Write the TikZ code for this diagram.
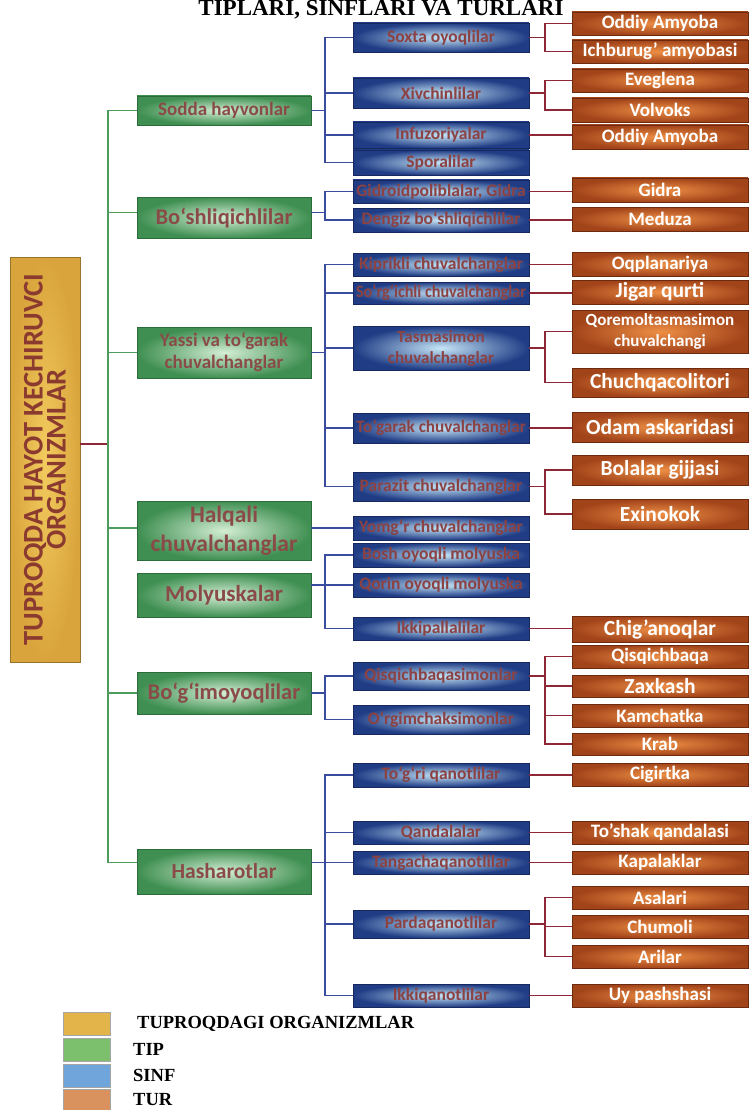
\documentclass[tikz,border=0pt]{standalone}
\usepackage{fontspec}
\usepackage{graphicx}
\setmainfont{Carlito}
\newfontfamily\tms{Liberation Serif}
\usetikzlibrary{calc}
\definecolor{lgreen}{HTML}{4E9C5C}
\definecolor{lblue}{HTML}{3A4C9E}
\definecolor{lred}{HTML}{8E2838}
\definecolor{gin}{HTML}{D4EED4}
\definecolor{gout}{HTML}{3F8F52}
\definecolor{gbord}{HTML}{2E6B3A}
\definecolor{gtxt}{HTML}{8A4B48}
\definecolor{bin}{HTML}{C6E6F7}
\definecolor{bout}{HTML}{1F3C85}
\definecolor{bbord}{HTML}{16285E}
\definecolor{btxt}{HTML}{8C4242}
\definecolor{oin}{HTML}{EE8F45}
\definecolor{oout}{HTML}{A2441A}
\definecolor{obord}{HTML}{6E2A0E}
\definecolor{yin}{HTML}{F2CB5E}
\definecolor{yout}{HTML}{D9A43C}
\definecolor{ytxt}{HTML}{8B3A30}
\definecolor{legY}{HTML}{E3B44A}
\definecolor{legG}{HTML}{7CC06E}
\definecolor{legB}{HTML}{6FA5DA}
\definecolor{legO}{HTML}{D9925E}
\newsavebox\fitbx
\newcommand\fitw[2]{\sbox\fitbx{#2}\ifdim\wd\fitbx>#1\relax\resizebox{#1}{\ht\fitbx}{\usebox\fitbx}\else\usebox\fitbx\fi}
\newcommand\bt[1]{\fitw{170pt}{#1}}
\newcommand\ot[1]{\fitw{172pt}{#1}}
\newcommand\bx[7]{\node[#2,minimum width={(#5-#3)*1pt},minimum height={(#6-#4)*1pt}] (#1) at ({(#3+#5)/2},{(#4+#6)/2}) {#7};}
\tikzset{
 gl/.style={draw=lgreen, line width=1.5pt},
 bl/.style={draw=lblue, line width=1.5pt},
 rl/.style={draw=lred, line width=1.5pt},
 box/.style={rectangle, inner sep=1pt, line width=0.8pt, align=center},
 gbox/.style={box, draw=gbord, inner color=gin, outer color=gout, text=gtxt, font=\bfseries\fontsize{20}{22}\selectfont},
 bbox/.style={box, draw=bbord, inner color=bin, outer color=bout, text=btxt, font=\bfseries\fontsize{17.5}{18}\selectfont},
 obox/.style={box, draw=obord, inner color=oin, outer color=oout, text=white, font=\bfseries\fontsize{19}{20}\selectfont},
 obig/.style={obox, font=\bfseries\fontsize{21.5}{22}\selectfont},
 legbox/.style={rectangle, draw=gray!70, line width=0.8pt, minimum width=47pt, minimum height=23pt, inner sep=0pt},
 legtxt/.style={anchor=west, inner sep=0pt, font=\tms\bfseries\fontsize{18.5}{18.5}\selectfont},
}
\begin{document}
\begin{tikzpicture}[x=1pt,y=-1pt]
\useasboundingbox (0,0) rectangle (749,1110);
% title
\node[anchor=base, inner sep=0pt, font=\tms\bfseries\fontsize{23}{23}\selectfont] (title) at (381,16) {TIPLARI, SINFLARI VA TURLARI};
% trunk coordinates
\coordinate (gx) at (108,0);
\coordinate (bx) at (325,0);
\coordinate (rx) at (545,0);
\coordinate (gjoin) at (108,444);
% root
\node[box, rotate=90, draw=yout!70!black, inner color=yin, outer color=yout, text=ytxt, minimum width=405pt, minimum height=70pt, font=\bfseries\fontsize{28.5}{23}\selectfont] (root) at (45,459.5) {TUPROQDA HAYOT KECHIRUVCI\\ORGANIZMLAR};
% green
\bx{G1}{gbox,font=\bfseries\fontsize{19}{22}\selectfont}{137}{96}{311}{125}{Sodda hayvonlar}
\bx{G2}{gbox,font=\bfseries\fontsize{22.5}{22}\selectfont}{137}{197}{311}{238}{Bo‘shliqichlilar}
\bx{G3}{gbox,font=\bfseries\fontsize{19}{22}\selectfont}{137}{327}{311}{378}{Yassi va to‘garak\\chuvalchanglar}
\bx{G4}{gbox,font=\bfseries\fontsize{23.5}{29}\selectfont}{137}{501}{311}{560}{Halqali\\chuvalchanglar}
\bx{G5}{gbox,font=\bfseries\fontsize{23}{22}\selectfont}{137}{573}{311}{617}{Molyuskalar}
\bx{G6}{gbox,font=\bfseries\fontsize{22.5}{22}\selectfont}{137}{672}{311}{714}{Bo‘g‘imoyoqlilar}
\bx{G7}{gbox,font=\bfseries\fontsize{21.5}{22}\selectfont}{137}{849}{311}{894}{Hasharotlar}
\coordinate (G2w) at ([yshift=5pt]G2.west);
\coordinate (G2e) at ([yshift=5pt]G2.east);
% blue
\bx{B1}{bbox}{353}{23}{529}{52}{\bt{Soxta oyoqlilar}}
\bx{B2}{bbox}{353}{78}{529}{108}{\bt{Xivchinlilar}}
\bx{B3}{bbox}{353}{122}{529}{148}{\bt{Infuzoriyalar}}
\bx{B4}{bbox}{353}{150}{529}{175}{\bt{Sporalilar}}
\bx{B5}{bbox}{353}{180}{529}{203}{\bt{Gidroidpoliblalar, Gidra}}
\bx{B6}{bbox}{353}{208}{529}{232}{\bt{Dengiz bo‘shliqichlilar}}
\bx{B7}{bbox}{353}{253}{529}{276}{\bt{Kiprikli chuvalchanglar}}
\bx{B8}{bbox}{353}{282}{529}{304}{\bt{So‘rg‘ichli chuvalchanglar}}
\bx{B9}{bbox,font=\bfseries\fontsize{17}{21}\selectfont}{353}{326}{529}{370}{Tasmasimon\\chuvalchanglar}
\bx{B10}{bbox}{353}{413}{529}{443}{\bt{To‘garak chuvalchanglar}}
\bx{B11}{bbox}{353}{472}{529}{501}{\bt{Parazit chuvalchanglar}}
\bx{B12}{bbox}{353}{516}{529}{540}{\bt{Yomg‘r chuvalchanglar}}
\bx{B13}{bbox}{353}{543}{529}{567}{\bt{Bosh oyoqli molyuska}}
\bx{B14}{bbox}{353}{573}{529}{597}{\bt{Qorin oyoqli molyuska}}
\bx{B15}{bbox}{353}{617}{529}{640}{\bt{Ikkipallalilar}}
\bx{B16}{bbox}{353}{662}{529}{690}{\bt{Qisqichbaqasimonlar}}
\bx{B17}{bbox}{353}{705}{529}{734}{\bt{O‘rgimchaksimonlar}}
\bx{B18}{bbox}{353}{763}{529}{787}{\bt{To‘g‘ri qanotlilar}}
\bx{B19}{bbox}{353}{821}{529}{844}{\bt{Qandalalar}}
\bx{B20}{bbox}{353}{851}{529}{874}{\bt{Tangachaqanotlilar}}
\bx{B21}{bbox}{353}{910}{529}{938}{\bt{Pardaqanotlilar}}
\bx{B22}{bbox}{353}{984}{529}{1007}{\bt{Ikkiqanotlilar}}
% orange
\bx{O1}{obox}{572}{12}{748}{35}{\ot{Oddiy Amyoba}}
\bx{O2}{obox}{572}{40}{748}{63}{\ot{Ichburug’ amyobasi}}
\bx{O3}{obox}{572}{69}{748}{92}{\ot{Eveglena}}
\bx{O4}{obox}{572}{98}{748}{122}{\ot{Volvoks}}
\bx{O5}{obox}{572}{125}{748}{149}{\ot{Oddiy Amyoba}}
\bx{O6}{obox}{572}{178}{748}{202}{\ot{Gidra}}
\bx{O7}{obox}{572}{207}{748}{231}{\ot{Meduza}}
\bx{O8}{obox}{572}{252}{748}{276}{\ot{Oqplanariya}}
\bx{O9}{obig}{572}{280}{748}{304}{\ot{Jigar qurti}}
\bx{O10}{obox,font=\bfseries\fontsize{17}{20.5}\selectfont}{572}{310}{748}{353}{Qoremoltasmasimon\\chuvalchangi}
\bx{O11}{obig}{572}{368}{748}{397}{\ot{Chuchqacolitori}}
\bx{O12}{obig}{572}{412}{748}{442}{\ot{Odam askaridasi}}
\bx{O13}{obig}{572}{455}{748}{485}{\ot{Bolalar gijjasi}}
\bx{O14}{obig}{572}{499}{748}{529}{\ot{Exinokok}}
\bx{O15}{obig}{572}{616}{748}{642}{\ot{Chig’anoqlar}}
\bx{O16}{obox}{572}{645}{748}{668}{\ot{Qisqichbaqa}}
\bx{O17}{obig}{572}{675}{748}{697}{\ot{Zaxkash}}
\bx{O18}{obox}{572}{704}{748}{727}{\ot{Kamchatka}}
\bx{O19}{obox}{572}{733}{748}{755}{\ot{Krab}}
\bx{O20}{obox}{572}{763}{748}{786}{\ot{Cigirtka}}
\bx{O21}{obox}{572}{821}{748}{844}{\ot{To’shak qandalasi}}
\bx{O22}{obox}{572}{851}{748}{874}{\ot{Kapalaklar}}
\bx{O23}{obox}{572}{886}{748}{909}{\ot{Asalari}}
\bx{O24}{obox}{572}{915}{748}{938}{\ot{Chumoli}}
\bx{O25}{obox}{572}{945}{748}{968}{\ot{Arilar}}
\bx{O26}{obox}{572}{984}{748}{1007}{\ot{Uy pashshasi}}
% root -> green trunk
\draw[rl] (root.south |- gjoin) -- (gjoin);
% green trunk
\draw[gl] (G1.west) -- (gx |- G1.west) -- (gx |- B20.west) -- (G7.west |- B20.west);
\draw[gl] (gx |- G2w) -- (G2w);
\draw[gl] (gx |- G3.west) -- (G3.west);
\draw[gl] (gx |- B12.west) -- (G4.west |- B12.west);
\draw[gl] (gx |- G6.west) -- (G6.west);
% blue: Sodda
\draw[bl] (G1.east) -- (bx |- G1.east);
\draw[bl] (B1.west) -| (bx |- B4.west) -- (B4.west);
\draw[bl] (bx |- B2.west) -- (B2.west);
\draw[bl] (bx |- B3.west) -- (B3.west);
% blue: Bo'shliqichlilar
\draw[bl] (G2e) -- (bx |- G2e);
\draw[bl] (B5.west) -| (bx |- B6.west) -- (B6.west);
% blue: Yassi
\draw[bl] (G3.east) -- (bx |- G3.east);
\draw[bl] (B7.west) -| (bx |- B11.west) -- (B11.west);
\draw[bl] (bx |- B8.west) -- (B8.west);
\draw[bl] (bx |- B9.west) -- (B9.west);
\draw[bl] (bx |- B10.west) -- (B10.west);
% blue: Halqali
\draw[bl] (G4.east |- B12.west) -- (B12.west);
% blue: Molyuskalar
\draw[bl] (G5.east |- B14.west) -- (B14.west);
\draw[bl] (B13.west) -| (bx |- B15.west) -- (B15.west);
% blue: Bo'g'imoyoqlilar
\draw[bl] (G6.east) -- (bx |- G6.east);
\draw[bl] (B16.west) -| (bx |- B17.west) -- (B17.west);
% blue: Hasharotlar
\draw[bl] (G7.east |- B20.west) -- (B20.west);
\draw[bl] (B18.west) -| (bx |- B22.west) -- (B22.west);
\draw[bl] (bx |- B19.west) -- (B19.west);
\draw[bl] (bx |- B21.west) -- (B21.west);
% red
\draw[rl] (B1.east) -- (rx |- B1.east);
\draw[rl] (O1.west) -| (rx |- O2.west) -- (O2.west);
\draw[rl] (B2.east) -- (rx |- B2.east);
\draw[rl] (O3.west) -| (rx |- O4.west) -- (O4.west);
\draw[rl] (B3.east) -- (O5.west |- B3.east);
\draw[rl] (B5.east) -- (O6.west |- B5.east);
\draw[rl] (B6.east) -- (O7.west |- B6.east);
\draw[rl] (B7.east) -- (O8.west |- B7.east);
\draw[rl] (B8.east) -- (O9.west |- B8.east);
\draw[rl] (B9.east) -- (rx |- B9.east);
\draw[rl] (O10.west) -| (rx |- O11.west) -- (O11.west);
\draw[rl] (B10.east) -- (O12.west |- B10.east);
\draw[rl] (B11.east) -- (rx |- B11.east);
\draw[rl] (O13.west) -| (rx |- O14.west) -- (O14.west);
\draw[rl] (B15.east) -- (O15.west |- B15.east);
\draw[rl] (B16.east) -- (rx |- B16.east);
\draw[rl] (O16.west) -| (rx |- O19.west) -- (O19.west);
\draw[rl] (rx |- O17.west) -- (O17.west);
\draw[rl] (rx |- O18.west) -- (O18.west);
\draw[rl] (B18.east) -- (O20.west |- B18.east);
\draw[rl] (B19.east) -- (O21.west |- B19.east);
\draw[rl] (B20.east) -- (O22.west |- B20.east);
\draw[rl] (B21.east) -- (rx |- B21.east);
\draw[rl] (O23.west) -| (rx |- O25.west) -- (O25.west);
\draw[rl] (rx |- O24.west) -- (O24.west);
\draw[rl] (B22.east) -- (O26.west |- B22.east);
% legend
\node[legbox, fill=legY] (LY) at (86.5,1023.5) {};
\node[legbox, fill=legG] (LG) at (86.5,1049.5) {};
\node[legbox, fill=legB] (LB) at (86.5,1075.5) {};
\node[legbox, fill=legO] (LO) at (86.5,1101) {};
\node[legtxt] (tY) at (137,1024) {TUPROQDAGI ORGANIZMLAR};
\node[legtxt] (tG) at (133,1049) {TIP};
\node[legtxt] (tB) at (133,1075) {SINF};
\node[legtxt] (tO) at (133,1100) {TUR};
\end{tikzpicture}
\end{document}
